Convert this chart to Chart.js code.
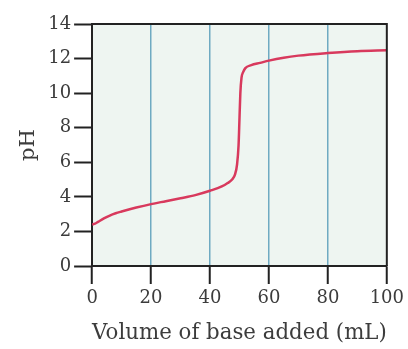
<!DOCTYPE html>
<html>
<head>
<meta charset="utf-8">
<script src="https://cdn.jsdelivr.net/npm/chart.js@4/dist/chart.umd.min.js"></script>
<style>
  html, body { margin: 0; padding: 0; background: #fff; }
</style>
</head>
<body>
<canvas id="chart" width="408" height="349"></canvas>
<script>
// volume of base (mL) and pH
const volume = [0, 1, 2, 4, 6, 8, 10, 15, 20, 25, 30, 35, 40, 44, 46, 47.5, 48.5, 49.2, 49.7, 50, 50.3, 50.7, 51.2, 52, 54, 57, 60, 65, 70, 80, 90, 100]
const pH =     [2.4, 2.45, 2.55, 2.75, 2.92, 3.05, 3.15, 3.38, 3.58, 3.75, 3.92, 4.1, 4.35, 4.6, 4.8, 5.0, 5.3, 5.9, 7.0, 8.5, 10.0, 10.9, 11.2, 11.45, 11.62, 11.75, 11.88, 12.05, 12.17, 12.32, 12.43, 12.48]
const xTicks = [0, 20, 40, 60, 80, 100]
const yTicks = [0, 2, 4, 6, 8, 10, 12, 14]

const points = volume.map((v, i) => ({ x: v, y: pH[i] }))
const textColor = '#3c3c3c'
const serif = "'DejaVu Serif', 'Liberation Serif', serif"

// fond vert pâle + cadre du haut et de droite
const frame = {
  id: 'frame',
  beforeDraw(chart) {
    const { ctx, chartArea: a } = chart
    ctx.save()
    ctx.fillStyle = '#eef5f1'
    ctx.fillRect(a.left, a.top, a.right - a.left, a.bottom - a.top)
    ctx.restore()
  },
  afterDraw(chart) {
    const { ctx, chartArea: a } = chart
    ctx.save()
    ctx.strokeStyle = '#222'
    ctx.lineWidth = 2
    ctx.beginPath()
    ctx.moveTo(a.left, a.top)
    ctx.lineTo(a.right, a.top)
    ctx.lineTo(a.right, a.bottom)
    ctx.stroke()
    ctx.restore()
  }
}

new Chart(document.getElementById('chart'), {
  type: 'line',
  data: {
    datasets: [{
      data: points,
      borderColor: '#d8395d',
      borderWidth: 2.5,
      pointRadius: 0,
      cubicInterpolationMode: 'monotone',
      fill: false
    }]
  },
  options: {
    responsive: false,
    animation: false,
    layout: { padding: { top: 24, right: 21, left: 16, bottom: 3 } },
    plugins: { legend: { display: false }, tooltip: { enabled: false } },
    scales: {
      x: {
        type: 'linear',
        min: 0, max: 100,
        afterBuildTicks: s => { s.ticks = xTicks.map(v => ({ value: v })) },
        grid: {
          color: c => (c.tick && (c.tick.value === 0 || c.tick.value === 100)) ? 'rgba(0,0,0,0)' : '#6eaac2',
          lineWidth: 1.5,
          tickColor: '#222',
          tickLength: 18,
          tickWidth: 2
        },
        border: { color: '#222', width: 2 },
        ticks: { color: textColor, font: { family: serif, size: 18 }, padding: 4, autoSkip: false, maxRotation: 0 },
        title: { display: true, text: 'Volume of base added (mL)', color: textColor, font: { family: serif, size: 22 }, padding: { top: 6, bottom: 0 } }
      },
      y: {
        min: 0, max: 14,
        afterBuildTicks: s => { s.ticks = yTicks.map(v => ({ value: v })) },
        grid: {
          drawOnChartArea: false,
          tickColor: '#222',
          tickLength: 18,
          tickWidth: 2
        },
        border: { color: '#222', width: 2 },
        ticks: { color: textColor, font: { family: serif, size: 18 }, padding: 3, autoSkip: false },
        title: { display: true, text: 'pH', color: textColor, font: { family: serif, size: 21 }, padding: { top: 0, bottom: 4 } }
      }
    }
  },
  plugins: [frame]
})
</script>
</body>
</html>
